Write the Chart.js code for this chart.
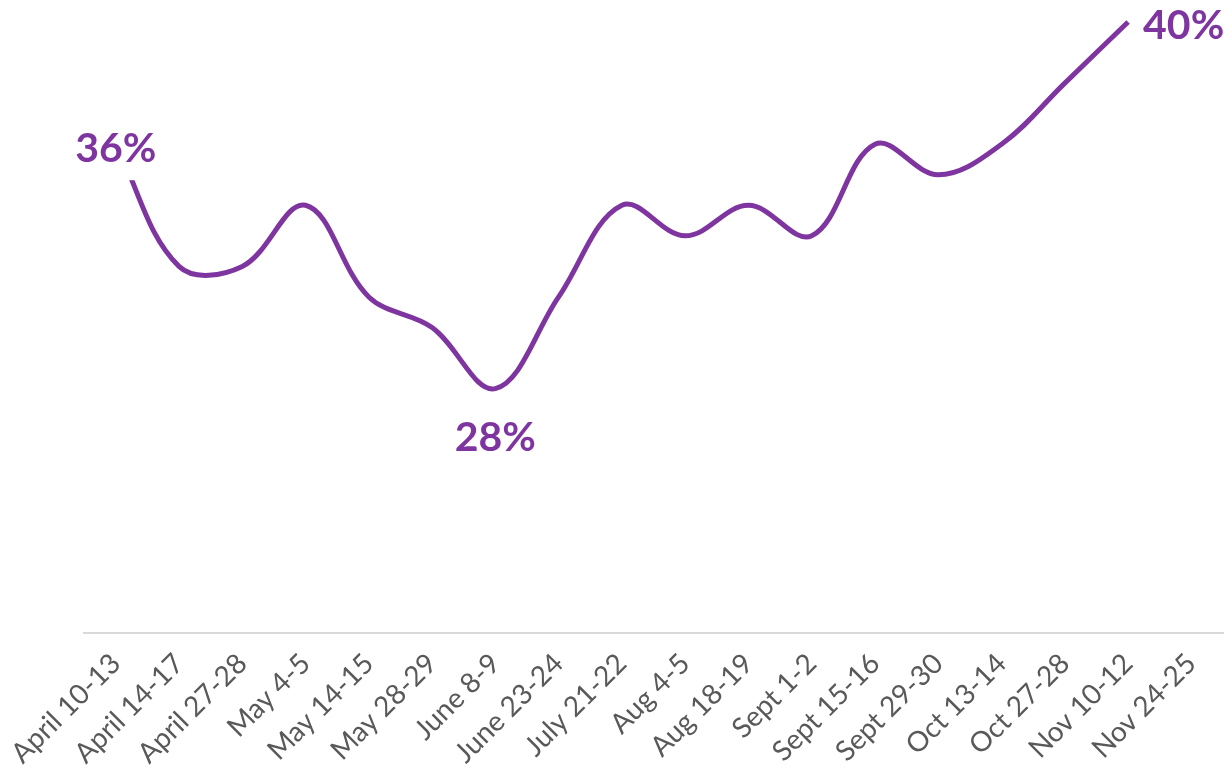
<!DOCTYPE html>
<html>
<head>
<meta charset="utf-8">
<script src="https://cdn.jsdelivr.net/npm/chart.js@4.4.0/dist/chart.umd.min.js"></script>
<style>
  html, body { margin: 0; padding: 0; background: #ffffff; }
  #wrap { width: 1230px; height: 778px; position: relative; }
</style>
</head>
<body>
<div id="wrap"><canvas id="c" width="1230" height="778"></canvas></div>
<script>
// ---- data ----
const categories = ["April 10-13", "April 14-17", "April 27-28", "May 4-5", "May 14-15", "May 28-29",
  "June 8-9", "June 23-24", "July 21-22", "Aug 4-5", "Aug 18-19", "Sept 1-2", "Sept 15-16",
  "Sept 29-30", "Oct 13-14", "Oct 27-28", "Nov 10-12", "Nov 24-25"];
const values = [36, 32, 32, 34, 31, 30, 28, 31, 34, 33, 34, 33, 36, 35, 36, 38, 40, null];
const labelIndexes = [0, 6, 16];
const labelTexts = ["36%", "28%", "40%"];

const PURPLE = "#7f35a0";

const pointLabels = {
  id: "pointLabels",
  afterDatasetsDraw(chart) {
    const ctx = chart.ctx;
    const xs = chart.scales.x, ys = chart.scales.y;
    ctx.save();
    ctx.font = "bold 41px Lato, 'Open Sans', sans-serif";
    ctx.textBaseline = "middle";
    labelIndexes.forEach((idx, n) => {
      const px = xs.getPixelForValue(idx);
      const py = ys.getPixelForValue(values[idx]);
      const txt = labelTexts[n];
      const w = ctx.measureText(txt).width;
      let cx, cy, boxTop, boxBottom, boxLeft, boxRight;
      if (n === 0) {          // centred on the point, white box hides the line
        cx = px; cy = py + 5;
        boxLeft = cx - w / 2 - 4; boxRight = cx + w / 2 + 4;
        boxTop = cy - 24; boxBottom = py + 36;
      } else if (n === 1) {   // below
        cx = px; cy = py + 49;
        boxLeft = cx - w / 2 - 4; boxRight = cx + w / 2 + 4;
        boxTop = cy - 22; boxBottom = cy + 22;
      } else {                // right
        cx = px + 15 + w / 2; cy = py + 4;
        boxLeft = px + 7; boxRight = cx + w / 2 + 4;
        boxTop = cy - 24; boxBottom = cy + 24;
      }
      ctx.fillStyle = "#ffffff";
      ctx.fillRect(boxLeft, boxTop, boxRight - boxLeft, boxBottom - boxTop);
      ctx.fillStyle = PURPLE;
      ctx.textAlign = "center";
      ctx.fillText(txt, cx, cy);
    });
    ctx.restore();
  }
};

new Chart(document.getElementById("c"), {
  type: "line",
  data: {
    labels: categories,
    datasets: [{
      data: values,
      borderColor: PURPLE,
      borderWidth: 5,
      pointRadius: 0,
      pointHoverRadius: 0,
      tension: 0.37,
      fill: false,
      clip: false,
      spanGaps: false
    }]
  },
  options: {
    responsive: false,
    devicePixelRatio: 1,
    animation: false,
    events: [],
    layout: { padding: { left: 82, right: 7, top: 22, bottom: 0 } },
    plugins: { legend: { display: false }, tooltip: { enabled: false } },
    scales: {
      x: {
        type: "category",
        offset: true,
        grid: { display: false, drawTicks: false },
        border: { display: true, color: "#d9d9d9", width: 2 },
        ticks: {
          autoSkip: false,
          maxRotation: 45,
          minRotation: 45,
          padding: 14,
          color: "#595959",
          font: { family: "Lato, 'Open Sans', sans-serif", size: 28 }
        },
        afterFit(scale) { scale.height = 145; }
      },
      y: {
        display: false,
        min: 20,
        max: 40
      }
    }
  },
  plugins: [pointLabels]
});
</script>
</body>
</html>
